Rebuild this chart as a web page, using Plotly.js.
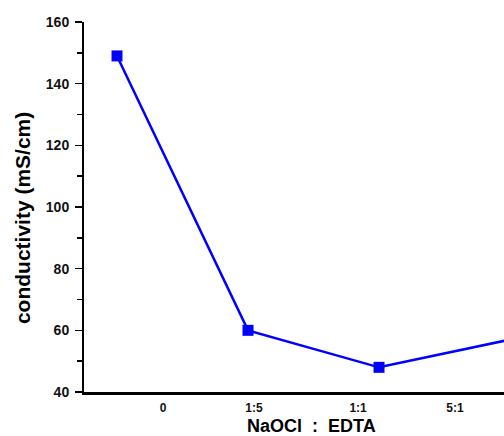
<!DOCTYPE html>
<html>
<head>
<meta charset="utf-8">
<script src="https://cdn.plot.ly/plotly-3.0.1.min.js"></script>
<style>html,body{margin:0;padding:0;background:#fff;}#chart{width:504px;height:436px;}</style>
</head>
<body>
<div id="chart"></div>
<script>
// Data
var pointPositions = [0, 1, 2, 3];
var conductivity = [149, 60, 48, 57];
var tickLabels = ['0', '1:5', '1:1', '5:1'];
var tickPositions = [0.351, 1.046, 1.840, 2.580];

var trace = {
  x: pointPositions,
  y: conductivity,
  type: 'scatter',
  mode: 'lines+markers',
  line: {color: '#0000FF', width: 2.5},
  marker: {symbol: 'square', size: 11, color: '#0000FF'},
  cliponaxis: true,
  showlegend: false
};

var font = 'Liberation Sans, Arial, sans-serif';

var layout = {
  width: 504,
  height: 436,
  margin: {l: 84, r: 0, t: 22, b: 44, pad: 0},
  paper_bgcolor: '#ffffff',
  plot_bgcolor: '#ffffff',
  xaxis: {
    range: [-0.252, 2.954],
    showgrid: false,
    zeroline: false,
    showline: true,
    linecolor: '#000',
    linewidth: 2.5,
    ticks: '',
    tickmode: 'array',
    tickvals: tickPositions,
    ticktext: tickLabels,
    ticklabelstandoff: 3,
    tickfont: {family: font, size: 12, color: '#111', weight: 'bold'}
  },
  yaxis: {
    range: [40, 160],
    showgrid: false,
    zeroline: false,
    showline: true,
    linecolor: '#000',
    linewidth: 2,
    ticks: 'outside',
    ticklen: 7,
    tickwidth: 1.5,
    tickcolor: '#000',
    tickmode: 'linear',
    tick0: 40,
    dtick: 20,
    ticklabelstandoff: 3,
    minor: {ticks: 'outside', ticklen: 5, tickwidth: 1.5, tickcolor: '#000', dtick: 10, showgrid: false},
    tickfont: {family: font, size: 14, color: '#111', weight: 'bold'}
  },
  annotations: [
    {
      text: 'conductivity (mS/cm)',
      xref: 'paper', yref: 'paper',
      x: -0.1476, y: 0.470,
      xanchor: 'center', yanchor: 'middle',
      textangle: -90,
      showarrow: false,
      font: {family: font, size: 21, color: '#000', weight: 'bold'}
    },
    {
      text: 'NaOCl  :  EDTA',
      xref: 'paper', yref: 'paper',
      x: 0.5417, y: -0.093,
      xanchor: 'center', yanchor: 'middle',
      showarrow: false,
      font: {family: font, size: 18, color: '#000', weight: 'bold'}
    }
  ]
};

Plotly.newPlot('chart', [trace], layout, {displayModeBar: false, staticPlot: true});
</script>
</body>
</html>
